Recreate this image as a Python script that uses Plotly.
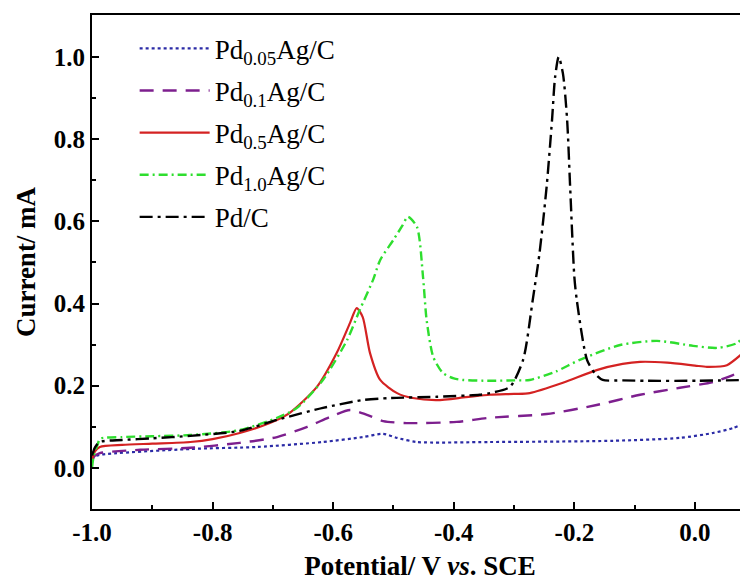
import plotly.graph_objects as go

# ---- data ----
pd005_x = [-1.0, -0.995, -0.987, -0.837, -0.726, -0.617, -0.551, -0.517, -0.494, -0.461, -0.34, -0.136, -0.025, 0.03, 0.063, 0.088]
pd005_y = [0.02, 0.028, 0.032, 0.046, 0.051, 0.063, 0.075, 0.083, 0.073, 0.063, 0.063, 0.066, 0.073, 0.085, 0.097, 0.112]

pd01_x = [-1.0, -0.995, -0.987, -0.92, -0.837, -0.755, -0.693, -0.643, -0.605, -0.572, -0.544, -0.517, -0.478, -0.395, -0.34, -0.246, -0.163, -0.091, -0.025, 0.03, 0.063, 0.088]
pd01_y = [0.02, 0.03, 0.036, 0.044, 0.049, 0.061, 0.075, 0.1, 0.124, 0.141, 0.129, 0.114, 0.109, 0.112, 0.122, 0.131, 0.153, 0.178, 0.195, 0.209, 0.226, 0.243]

pd05_x = [-1.0, -0.995, -0.987, -0.95, -0.9, -0.837, -0.8, -0.755, -0.705, -0.672, -0.627, -0.594, -0.572, -0.561, -0.551, -0.539, -0.522, -0.494, -0.468, -0.428, -0.38, -0.34, -0.3, -0.274, -0.219, -0.163, -0.12, -0.091, -0.046, 0.0, 0.02, 0.053, 0.08, 0.088]
pd05_y = [0.02, 0.04, 0.051, 0.056, 0.059, 0.063, 0.07, 0.085, 0.109, 0.134, 0.197, 0.28, 0.353, 0.389, 0.367, 0.28, 0.214, 0.182, 0.170, 0.165, 0.172, 0.178, 0.180, 0.182, 0.207, 0.238, 0.253, 0.258, 0.256, 0.249, 0.246, 0.25, 0.28, 0.29]

pd10_x = [-1.0, -0.997, -0.99, -0.987, -0.95, -0.9, -0.837, -0.755, -0.693, -0.66, -0.617, -0.577, -0.556, -0.534, -0.522, -0.5, -0.485, -0.476, -0.461, -0.451, -0.445, -0.434, -0.418, -0.4, -0.385, -0.34, -0.3, -0.274, -0.23, -0.191, -0.124, -0.063, -0.003, 0.037, 0.07, 0.088]
pd10_y = [0.0, 0.03, 0.06, 0.071, 0.075, 0.077, 0.080, 0.092, 0.122, 0.146, 0.214, 0.311, 0.384, 0.457, 0.506, 0.555, 0.59, 0.611, 0.586, 0.465, 0.36, 0.27, 0.231, 0.218, 0.214, 0.212, 0.213, 0.214, 0.235, 0.263, 0.299, 0.309, 0.297, 0.292, 0.304, 0.335]

pdc_x = [-1.0, -0.995, -0.987, -0.95, -0.9, -0.837, -0.755, -0.693, -0.617, -0.551, -0.506, -0.428, -0.357, -0.34, -0.307, -0.285, -0.269, -0.258, -0.246, -0.237, -0.232, -0.226, -0.219, -0.212, -0.207, -0.2, -0.196, -0.179, -0.165, -0.153, -0.12, -0.08, 0.003, 0.088]
pdc_y = [0.03, 0.05, 0.063, 0.068, 0.072, 0.078, 0.090, 0.117, 0.146, 0.165, 0.170, 0.173, 0.178, 0.182, 0.197, 0.263, 0.409, 0.52, 0.684, 0.847, 0.95, 1.0, 0.96, 0.847, 0.684, 0.465, 0.409, 0.263, 0.228, 0.214, 0.213, 0.212, 0.212, 0.214]

names = ["Pd<sub>0.05</sub>Ag/C", "Pd<sub>0.1</sub>Ag/C", "Pd<sub>0.5</sub>Ag/C", "Pd<sub>1.0</sub>Ag/C", "Pd/C"]

x_tickvals = [-1.0, -0.8, -0.6, -0.4, -0.2, 0.0]
x_ticktext = ["-1.0", "-0.8", "-0.6", "-0.4", "-0.2", "0.0"]
y_tickvals = [0.0, 0.2, 0.4, 0.6, 0.8, 1.0]
y_ticktext = ["0.0", "0.2", "0.4", "0.6", "0.8", "1.0"]

series = [
    (pd005_x, pd005_y, names[0], "#2b2ba6", "dot", 2.2),
    (pd01_x, pd01_y, names[1], "#7d1f8e", "14px,9px", 2.4),
    (pd05_x, pd05_y, names[2], "#d42222", "solid", 2.2),
    (pd10_x, pd10_y, names[3], "#2ede2e", "9px,4px,2px,4px", 2.4),
    (pdc_x, pdc_y, names[4], "#000000", "13px,5px,3px,5px", 2.4),
]

FONT = "Liberation Serif"

fig = go.Figure()
for i, (xs, ys, nm, col, dash, w) in enumerate(series):
    fig.add_trace(go.Scatter(
        x=xs, y=ys, name=nm, mode="lines",
        line=dict(color=col, dash=dash, width=w, shape="spline", smoothing=0.7),
        legendgroup=str(i),
    ))

axis_common = dict(
    showline=True, linecolor="black", linewidth=2,
    ticks="inside", ticklen=7, tickwidth=2, tickcolor="black",
    showgrid=False, zeroline=False,
    tickfont=dict(family=FONT, size=25, color="black", weight="bold"),
)

# page body adds an 8px offset, so the figure is sized to compensate
fig.update_layout(
    width=740, height=573,
    margin=dict(l=84, r=0, t=7, b=72, autoexpand=False),
    paper_bgcolor="white", plot_bgcolor="white",
    showlegend=True,
    legend=dict(
        x=0.065, y=0.981, xanchor="left", yanchor="top",
        font=dict(family=FONT, size=27, color="black"),
        bgcolor="rgba(0,0,0,0)", itemwidth=70, tracegroupgap=4,
    ),
    xaxis=dict(
        range=[-1.0, 0.088], tickvals=x_tickvals, ticktext=x_ticktext,
        mirror=True,
        minor=dict(ticks="inside", ticklen=4, tickwidth=2, tickcolor="black", dtick=0.1, tick0=0.0),
        title=dict(text="Potential/ V <i>vs</i>. SCE", font=dict(family=FONT, size=27, color="black", weight="bold"), standoff=15),
        ticklabelstandoff=0,
        automargin=False,
        **axis_common,
    ),
    yaxis=dict(
        range=[-0.1, 1.102], tickvals=y_tickvals, ticktext=y_ticktext,
        mirror=False,
        minor=dict(ticks="inside", ticklen=4, tickwidth=2, tickcolor="black", dtick=0.1, tick0=0.0),
        title=dict(text="Current/ mA", font=dict(family=FONT, size=27, color="black", weight="bold"), standoff=10),
        ticklabelstandoff=0,
        automargin=False,
        **axis_common,
    ),
)

fig.write_html("out.html")
